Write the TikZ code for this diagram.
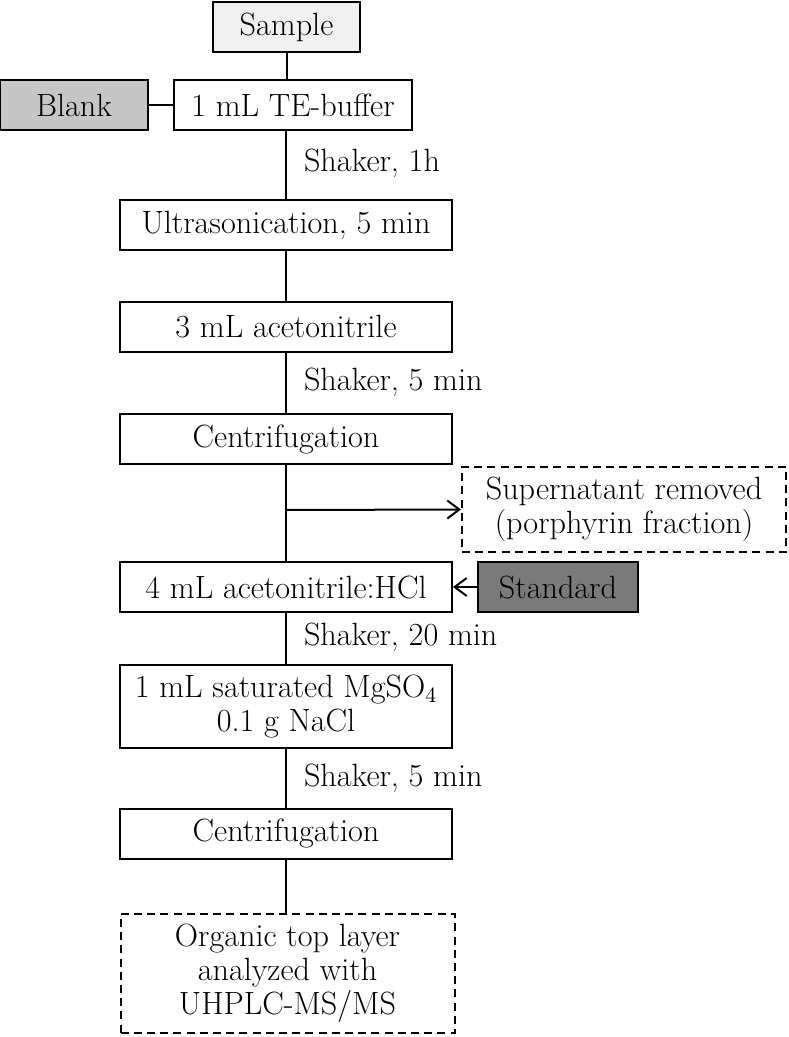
\documentclass[tikz,border=0pt]{standalone}
\usepackage{tikz}
\usetikzlibrary{arrows.meta}

\definecolor{samplegray}{HTML}{F0F0F0}
\definecolor{blankgray}{HTML}{C6C6C6}
\definecolor{stdgray}{HTML}{7A7A7A}

\begin{document}
\begin{tikzpicture}[x=0.5pt, y=-0.5pt, line width=1pt,
  stepbox/.style={rectangle, draw=black, fill=white, line width=1pt, minimum width=166pt, minimum height=25pt, inner sep=2pt, align=center, font=\fontsize{16.1}{16.9}\selectfont},
  dashbox/.style={stepbox, dash pattern=on 4pt off 2.6pt},
  shaketext/.style={anchor=west, inner sep=0pt, font=\fontsize{16.1}{16.9}\selectfont},
  flowarrow/.style={-{Straight Barb[length=6pt, width=9pt, line width=1pt]}}]
\useasboundingbox (0,0) rectangle (788,1037);
\node[stepbox, fill=samplegray, minimum width=73.5pt] (sample) at (286.5,27) {Sample};
\node[stepbox, minimum width=119pt] (tebuf) at (293,105.5) {1 mL TE-buffer};
\node[stepbox, fill=blankgray, minimum width=74pt] (blank) at (74,105.5) {Blank};
\node[shaketext] (shake1) at (303,163) {Shaker, 1h};
\node[stepbox] (ultra) at (286,225) {Ultrasonication, 5 min};
\node[stepbox] (aceto) at (286,327) {3 mL acetonitrile};
\node[shaketext] (shake2) at (303,382) {Shaker, 5 min};
\node[stepbox] (centri1) at (286,439) {Centrifugation};
\node[dashbox, minimum width=162pt, minimum height=42.5pt] (super) at (624,509.5) {Supernatant removed\\(porphyrin fraction)};
\node[stepbox] (hcl) at (286,587) {4 mL acetonitrile:HCl};
\node[stepbox, fill=stdgray, minimum width=80pt] (standard) at (558,587) {Standard};
\node[shaketext] (shake3) at (303,637) {Shaker, 20 min};
\node[stepbox, minimum height=41.5pt] (mgso) at (286,706.5) {1 mL saturated MgSO$_4$\\0.1 g NaCl};
\node[shaketext] (shake4) at (303,778) {Shaker, 5 min};
\node[stepbox] (centri2) at (286,833.5) {Centrifugation};
\node[dashbox, minimum width=167pt, minimum height=59.5pt] (organic) at (287.5,973.5) {Organic top layer\\analyzed with\\UHPLC-MS/MS};
\coordinate (split) at (286,510);
% connectors
\draw (sample.south) -- (sample.south |- tebuf.north);
\draw (blank.east) -- (tebuf.west);
\draw (ultra.north |- tebuf.south) -- (ultra.north);
\draw (ultra.south) -- (aceto.north);
\draw (aceto.south) -- (centri1.north);
\draw (centri1.south) -- (hcl.north);
\draw (hcl.south) -- (mgso.north);
\draw (mgso.south) -- (centri2.north);
\draw (centri2.south) -- (centri2.south |- organic.north);
\draw[flowarrow] (split) -- (super.west);
\draw[flowarrow] (standard.west) -- (hcl.east);
\end{tikzpicture}
\end{document}
